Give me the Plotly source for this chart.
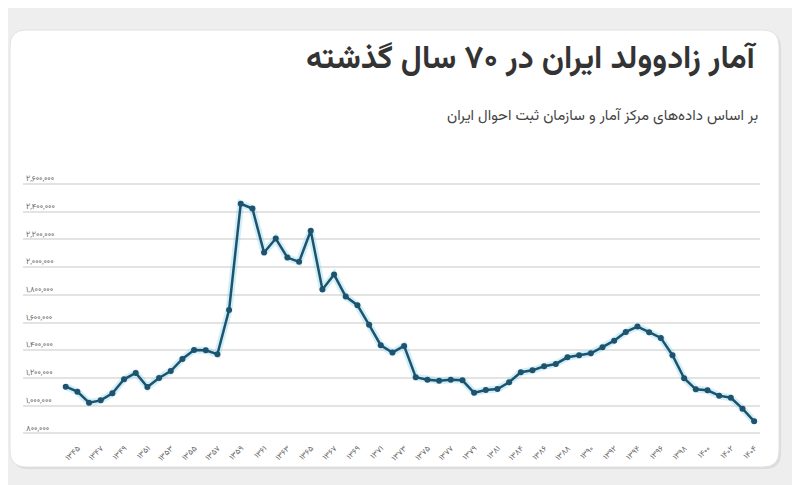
import plotly.graph_objects as go

# Years (solar hijri) shown on the chart; 1382 is absent in the source series
years = list(range(1345, 1382)) + list(range(1383, 1406))

# Registered births per year
births = [
    1137000, 1101000, 1021000, 1038000, 1089000, 1190000, 1236000, 1135000,
    1200000, 1250000, 1337000, 1402000, 1400000, 1371000, 1691000, 2457000,
    2423000, 2105000, 2206000, 2069000, 2038000, 2262000, 1838000, 1946000,
    1787000, 1725000, 1583000, 1436000, 1383000, 1431000, 1205000, 1187000,
    1180000, 1187000, 1183000, 1093000, 1113000, 1120000, 1169000, 1241000,
    1255000, 1284000, 1301000, 1349000, 1364000, 1378000, 1422000, 1469000,
    1532000, 1571000, 1530000, 1489000, 1364000, 1198000, 1118000, 1111000,
    1072000, 1057000, 978000, 887000,
]

y_ticks = [800000, 1000000, 1200000, 1400000, 1600000, 1800000,
           2000000, 2200000, 2400000, 2600000]

title_text = 'آمار زادوولد ایران در ۷۰ سال گذشته'
subtitle_text = 'بر اساس داده‌های مرکز آمار و سازمان ثبت احوال ایران'

FA_DIGITS = str.maketrans('0123456789', '۰۱۲۳۴۵۶۷۸۹')


def fa(s):
    return str(s).translate(FA_DIGITS)


x_labels = [fa(y) for y in years]
x_tickvals = x_labels[::2]
y_ticktext = [fa(f'{v:,}') for v in y_ticks]

# the page body has an 8px margin, so the figure is made 8px smaller
OFF = 8
W, H = 800 - OFF, 485 - OFF
L, R, T, B = 15, 40, 162, 50
pw, ph = W - L - R, H - T - B


def px(x):  # page pixel -> paper x
    return (x - OFF - L) / pw


def py(y):  # page pixel -> paper y
    return (H - B - (y - OFF)) / ph


def card_path(x0, y0, x1, y1, r):
    rx, ry = r / pw, r / ph
    a, b, c, d = px(x0), py(y1), px(x1), py(y0)
    return (f'M {a + rx},{b} L {c - rx},{b} Q {c},{b} {c},{b + ry} '
            f'L {c},{d - ry} Q {c},{d} {c - rx},{d} L {a + rx},{d} '
            f'Q {a},{d} {a},{d - ry} L {a},{b + ry} Q {a},{b} {a + rx},{b} Z')


fig = go.Figure()

# soft glow under the line
fig.add_trace(go.Scatter(x=x_labels, y=births, mode='lines',
                         line=dict(color='rgba(120,210,235,0.35)', width=7),
                         hoverinfo='skip', showlegend=False))
fig.add_trace(go.Scatter(x=x_labels, y=births, mode='lines+markers',
                         line=dict(color='#1f526c', width=2.5),
                         marker=dict(color='#1f526c', size=6),
                         showlegend=False))

font_fam = "Vazirmatn, 'DejaVu Sans', 'Noto Sans', sans-serif"

fig.update_layout(
    width=W, height=H,
    margin=dict(l=L, r=R, t=T, b=B),
    paper_bgcolor='#eeeeee',
    plot_bgcolor='rgba(0,0,0,0)',
    font=dict(family=font_fam, color='#555'),
    xaxis=dict(type='category', range=[-3.66, 59.5],
               tickmode='array', tickvals=x_tickvals, ticktext=x_tickvals,
               tickangle=-45, ticklabelshift=12, ticklabelstandoff=6,
               tickfont=dict(size=8, color='#666'),
               showgrid=False, zeroline=False, showline=False, ticks=''),
    yaxis=dict(range=[788000, 2701000], tickmode='array',
               tickvals=y_ticks, ticktext=y_ticktext,
               ticklabelposition='inside top',
               tickfont=dict(size=8, color='#666'),
               gridcolor='#e3e3e3', gridwidth=1.5, zeroline=False,
               showline=False, ticks=''),
    shapes=[
        dict(type='path', xref='paper', yref='paper', layer='below',
             path=card_path(12, 32, 781, 469, 16),
             fillcolor='#dcdcdc', line=dict(width=0)),
        dict(type='path', xref='paper', yref='paper', layer='below',
             path=card_path(10, 30, 779, 467, 16),
             fillcolor='white', line=dict(color='#e2e2e2', width=1)),
    ],
    annotations=[
        dict(text=f'<b>{title_text}</b>', xref='paper', yref='paper',
             x=px(760), y=py(60), xanchor='right', yanchor='middle',
             showarrow=False, font=dict(size=32, color='#333')),
        dict(text=subtitle_text, xref='paper', yref='paper',
             x=px(760), y=py(116), xanchor='right', yanchor='middle',
             showarrow=False, font=dict(size=15, color='#444')),
    ],
)

fig.write_html('out.html')
